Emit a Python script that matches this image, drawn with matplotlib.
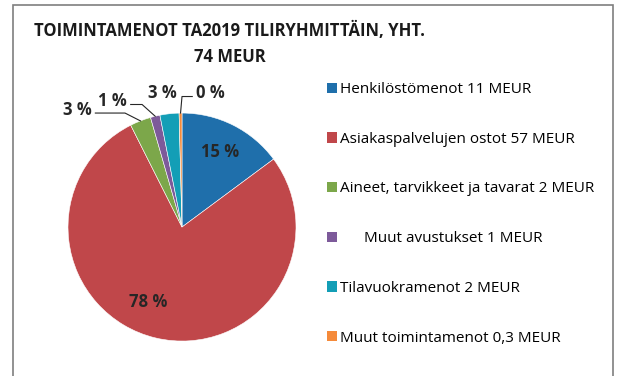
import numpy as np
import matplotlib.pyplot as plt
from matplotlib.patches import Rectangle, Patch

plt.rcParams['font.family'] = ['Open Sans', 'DejaVu Sans']

# Operating expenses by account group, MEUR
categories = ['Henkilöstömenot 11 MEUR',
              'Asiakaspalvelujen ostot 57 MEUR',
              'Aineet, tarvikkeet ja tavarat 2 MEUR',
              '      Muut avustukset 1 MEUR',
              'Tilavuokramenot 2 MEUR',
              'Muut toimintamenot 0,3 MEUR']
values = [11.0, 57.6, 2.2, 1.0, 2.0, 0.3]
colors = ['#1f6fab', '#c0474a', '#7ca74a', '#7d5a9a', '#139eb6', '#f58a3a']
title = 'TOIMINTAMENOT TA2019 TILIRYHMITTÄIN, YHT.\n74 MEUR'

# inside labels: ('in', radius, angle shift in degrees)
# outside labels: ('out', text x, text y, elbow x) with a leader line
label_pos = [('in', 0.74, 0),
             ('in', 0.72, -11),
             ('out', -0.92, 1.03, -0.50),
             ('out', -0.61, 1.105, -0.35),
             ('out', -0.175, 1.175, None),
             ('out', 0.25, 1.175, 0.0)]

fig = plt.figure(figsize=(6.19, 3.76), dpi=100)

# chart frame
fig.patches.append(Rectangle((13 / 619, -0.05), 600 / 619, 1.05 - 5 / 376,
                             transform=fig.transFigure, fill=False,
                             edgecolor='#7f7f7f', linewidth=1.2))

ax = fig.add_axes([0.0546, 0.002, 296.4 / 619, 296.4 / 376])

wedges, _ = ax.pie(values, colors=colors, startangle=90, counterclock=False,
                   radius=1.0, wedgeprops=dict(edgecolor='white', linewidth=0.4))
# pie() resets the limits, so set them afterwards
ax.set_xlim(-1.3, 1.3)
ax.set_ylim(-1.3, 1.3)
ax.set_aspect('equal')
ax.axis('off')

total = sum(values)
for w, v, pos in zip(wedges, values, label_pos):
    pct = '%d %%' % round(v / total * 100)
    mid = np.deg2rad((w.theta1 + w.theta2) / 2)
    px, py = np.cos(mid), np.sin(mid)
    if pos[0] == 'in':
        _, r, shift = pos
        a = mid + np.deg2rad(shift)
        ax.text(r * np.cos(a), r * np.sin(a), pct, ha='center', va='center',
                fontsize=12, fontweight='bold', color='#262626')
        continue
    _, tx, ty, ex = pos
    ax.text(tx, ty, pct, ha='center', va='center', fontsize=12,
            fontweight='bold', color='#262626', clip_on=False)
    if ex is not None:
        start = tx + 0.16 if ex > tx else tx - 0.16
        ax.plot([start, ex, px], [ty - 0.03, ty - 0.03, py], color='#262626',
                linewidth=0.8, clip_on=False)

handles = [Patch(facecolor=c, edgecolor='none') for c in colors]
fig.legend(handles, categories, loc='upper left',
           bbox_to_anchor=(321 / 619, 1 - 76 / 376), frameon=False,
           fontsize=11, handlelength=0.65, handleheight=0.65,
           handletextpad=0.2, labelspacing=2.27, borderaxespad=0)

fig.text(230 / 619, 1 - 44 / 376, title, ha='center', va='center',
         fontsize=12, fontweight='bold', color='#1a1a1a', linespacing=1.6)

fig.savefig('out.png', dpi=100)
